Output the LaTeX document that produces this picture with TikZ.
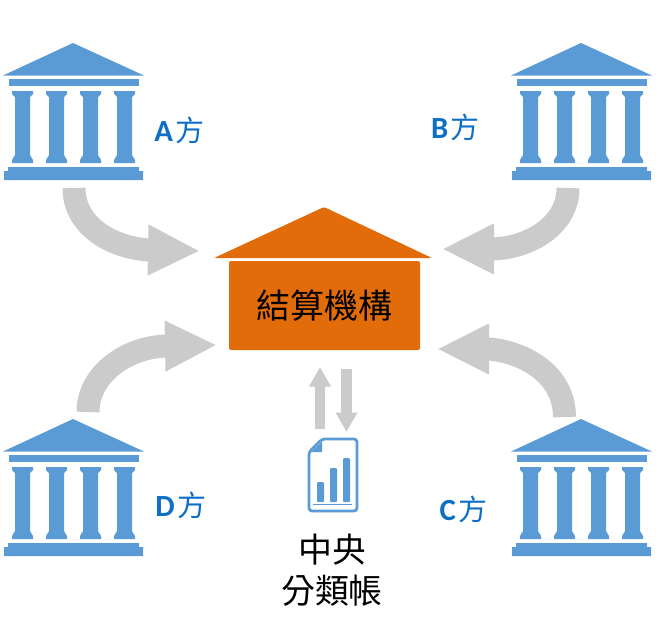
\documentclass[tikz,border=0pt]{standalone}
\usepackage{fontspec}
\usepackage{xcolor}
\usepackage{tikz}
\usetikzlibrary{arrows.meta}
\setmainfont{Carlito}
\newfontfamily\cjkfont{Noto Sans CJK TC}
\definecolor{bankblue}{HTML}{5B9BD5}
\definecolor{labelblue}{HTML}{0F6FC6}
\definecolor{househue}{HTML}{E36C0A}
\definecolor{flowgray}{HTML}{CBCBCB}
\newcommand{\partyside}[1]{\fontsize{17.5}{20}\selectfont\textbf{#1}\hspace{1.5pt}{\cjkfont\fontsize{16.5}{20}\selectfont 方}}
\tikzset{
  bankpart/.style={fill=bankblue,draw=none},
  partylabel/.style={text=labelblue,inner sep=0pt},
  flowarrow/.style={draw=flowgray,line width=4.6mm,-{Triangle[length=10.4mm,width=9.4mm]}},
  syncarrow/.style={draw=flowgray,line width=2.1mm,-{Triangle[length=3.9mm,width=4.1mm]}},
  bigtext/.style={font=\cjkfont\fontsize{19.3}{23}\selectfont,inner sep=0pt}
}

\begin{document}
\begin{tikzpicture}[x=0.2mm,y=-0.2mm]
  \useasboundingbox (0,0) rectangle (664,620);

  % Banks: name / shift
  \foreach \bankname/\bx/\by in {A/0/0, B/508/0, C/508/376, D/0/376}{
    \begin{scope}[shift={(\bx,\by)}]
      \fill[bankpart] (73,43) -- (144,75.5) -- (3,75.5) -- cycle;
      \fill[bankpart] (8.5,79) rectangle (139,86);
      \foreach \cx in {0,34,68,102}{
        \fill[bankpart,xshift=\cx*0.2mm] (12,91) -- (33,91) -- (33,94) -- (30,97) -- (30,155)
          -- (33,160) -- (33,163) -- (12,163) -- (12,160) -- (15,155) -- (15,97) -- (12,94) -- cycle;
      }
      \fill[bankpart] (4,171) -- (8,171) -- (8,167) -- (139,167) -- (139,171)
        -- (143,171) -- (143,180) -- (4,180) -- cycle;
    \end{scope}
  }

  % Party labels
  \node[partylabel] (labelA) at (179.5,130) {\partyside{A}};
  \node[partylabel] (labelB) at (455.5,127) {\partyside{B}};
  \node[partylabel] (labelC) at (463.5,509) {\partyside{C}};
  \node[partylabel] (labelD) at (181,505) {\partyside{D}};

  % Clearing house
  \fill[househue,rounded corners=0.3mm] (324,207) -- (432,258) -- (214,258) -- cycle;
  \node[bigtext,fill=househue,rounded corners=0.4mm,minimum width=38.2mm,minimum height=17.8mm] (house) at (324.5,305.5) {結算機構};

  % Ends of the arrows
  \coordinate (startA) at (74,188);
  \coordinate (startB) at (568,188);
  \coordinate (startC) at (564.5,417);
  \coordinate (startD) at (88,412);
  \coordinate (tipA) at (200,251);
  \coordinate (tipB) at (442,249);
  \coordinate (tipC) at (437,349);
  \coordinate (tipD) at (217,345);

  \draw[flowarrow] (startA) .. controls (74,225) and (110,247) .. (148,250) -- (tipA);
  \draw[flowarrow] (startB) .. controls (568,225) and (530,248) .. (492,249) -- (tipB);
  \draw[flowarrow] (startC) .. controls (564.5,375) and (525,352) .. (489,349) -- (tipC);
  \draw[flowarrow] (startD) .. controls (88,375) and (125,348) .. (165,346) -- (tipD);

  % Ledger sheet
  \node[inner sep=0pt,minimum width=10mm,minimum height=14.8mm] (ledger) at (333,475) {};
  \draw[bankblue,line width=0.55mm,rounded corners=0.6mm] (322,439) -- (357,439) -- (357,511) -- (309,511) -- (309,452) -- cycle;
  \fill[bankblue] (322,441) -- (322,452) -- (311,452) -- cycle;
  \foreach \barx/\bary in {317/482, 330/468, 343/458}{
    \fill[bankblue,rounded corners=0.2mm] (\barx,\bary) rectangle (\barx+7,502);
  }
  \draw[bankblue,line width=0.2mm] (313,504.5) -- (352,504.5);

  \coordinate (syncup) at (320,367);
  \coordinate (syncdown) at (346.5,432);
  \draw[syncarrow] (ledger.north -| syncup) ++(0,-9) -- (syncup);
  \draw[syncarrow] (syncdown |- house.south) ++(0,19) -- (syncdown);

  \node[bigtext,align=center] (ledgertext) at (332,570) {中央\\分類帳};

\end{tikzpicture}
\end{document}
